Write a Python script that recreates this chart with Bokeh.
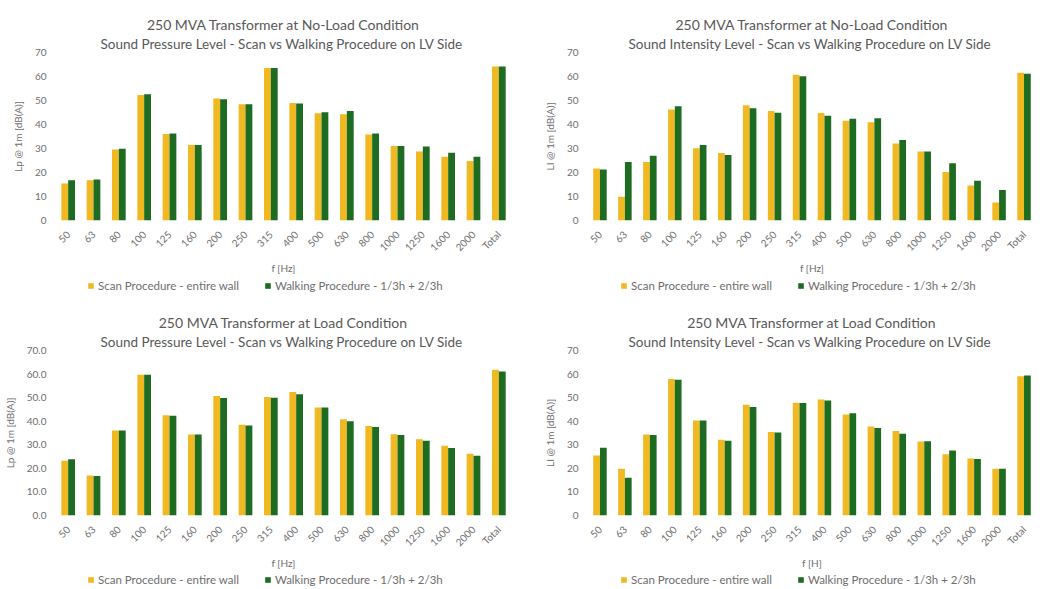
from bokeh.plotting import figure
from bokeh.layouts import gridplot
from bokeh.models import ColumnDataSource, FactorRange, Range1d, FixedTicker, Legend, LegendItem, NumeralTickFormatter, Title
from bokeh.transform import dodge
from bokeh.embed import file_html
from bokeh.resources import INLINE
import math

categories = ["50", "63", "80", "100", "125", "160", "200", "250", "315", "400",
              "500", "630", "800", "1000", "1250", "1600", "2000", "Total"]

# Panel 1: No-load, sound pressure
nl_spl_scan = [15.4, 16.8, 29.6, 52.3, 36.0, 31.5, 50.8, 48.4, 63.5, 49.0, 44.7, 44.3, 35.8, 31.0, 28.7, 26.6, 24.8, 64.2]
nl_spl_walk = [16.8, 17.1, 29.9, 52.6, 36.3, 31.5, 50.5, 48.4, 63.5, 48.7, 45.1, 45.6, 36.2, 31.0, 30.8, 28.2, 26.6, 64.2]
# Panel 2: No-load, sound intensity
nl_sil_scan = [21.7, 9.9, 24.4, 46.3, 30.1, 28.1, 48.0, 45.6, 60.7, 44.8, 41.6, 40.9, 32.1, 28.8, 20.2, 14.6, 7.5, 61.6]
nl_sil_walk = [21.3, 24.4, 27.0, 47.6, 31.5, 27.3, 46.8, 44.9, 60.1, 43.6, 42.4, 42.6, 33.5, 28.8, 23.9, 16.6, 12.7, 61.1]
# Panel 3: Load, sound pressure
ld_spl_scan = [23.2, 17.0, 36.1, 59.7, 42.5, 34.4, 50.7, 38.5, 50.3, 52.4, 45.8, 40.8, 38.0, 34.5, 32.3, 29.6, 26.2, 61.8]
ld_spl_walk = [23.9, 16.8, 36.1, 59.7, 42.3, 34.4, 49.9, 38.2, 50.0, 51.4, 45.8, 40.0, 37.5, 34.1, 31.7, 28.6, 25.4, 61.1]
# Panel 4: Load, sound intensity
ld_sil_scan = [25.5, 19.8, 34.4, 57.9, 40.3, 32.1, 47.0, 35.4, 47.8, 49.2, 42.9, 37.8, 35.8, 31.4, 26.0, 24.2, 19.8, 59.1]
ld_sil_walk = [28.7, 16.0, 34.1, 57.6, 40.3, 31.7, 46.0, 35.2, 47.7, 48.8, 43.4, 37.1, 34.7, 31.5, 27.6, 24.0, 19.8, 59.4]

y_ticks = [0, 10, 20, 30, 40, 50, 60, 70]
series_names = ["Scan Procedure - entire wall", "Walking Procedure - 1/3h + 2/3h"]

SCAN_COLOR = "#F0B922"
WALK_COLOR = "#1E6B22"
TEXT_COLOR = "#6e6e6e"
FONT = "Lato"


def make_panel(title1, title2, ylabel, xlabel, scan, walk, decimals, left, right, top, bottom, fw, fh):
    src = ColumnDataSource(dict(cat=categories, scan=scan, walk=walk))
    p = figure(x_range=FactorRange(*categories), y_range=Range1d(0, 70),
               frame_width=fw, frame_height=fh, output_backend="svg", toolbar_location=None,
               min_border_left=left, min_border_right=right,
               min_border_top=top, min_border_bottom=bottom)
    p.title.visible = False
    for txt, size in ((title2, "13.5px"), (title1, "14px")):
        t = Title(text=txt, align="center", text_font=FONT, text_font_size=size,
                  text_font_style="normal", text_color="#595959", standoff=1)
        p.add_layout(t, "above")
    p.vbar(x=dodge("cat", -0.135, range=p.x_range), top="scan", width=0.27,
           source=src, color=SCAN_COLOR, line_color=None)
    p.vbar(x=dodge("cat", 0.135, range=p.x_range), top="walk", width=0.27,
           source=src, color=WALK_COLOR, line_color=None)
    p.xgrid.visible = False
    p.ygrid.visible = False
    p.outline_line_color = None
    p.yaxis.ticker = FixedTicker(ticks=y_ticks)
    if decimals:
        p.yaxis.formatter = NumeralTickFormatter(format="0.0")
    for ax in (p.xaxis[0], p.yaxis[0]):
        ax.axis_line_color = None
        ax.major_tick_line_color = None
        ax.minor_tick_line_color = None
        ax.major_tick_out = 0
        ax.major_tick_in = 0
        ax.minor_tick_out = 0
        ax.major_label_text_font = FONT
        ax.major_label_text_font_size = "10px"
        ax.major_label_text_color = TEXT_COLOR
        ax.axis_label_text_font = FONT
        ax.axis_label_text_font_size = "10px"
        ax.axis_label_text_font_style = "normal"
        ax.axis_label_text_color = TEXT_COLOR
    p.xaxis.major_label_orientation = math.pi / 4
    p.xaxis.axis_label = xlabel
    p.yaxis.axis_label = ylabel
    p.xaxis.axis_label_standoff = 2
    p.yaxis.axis_label_standoff = 8
    p.xaxis.major_label_standoff = 12
    p.yaxis.major_label_standoff = 9
    return p


def make_legend(w, h, xoff):
    lf = figure(width=w, height=h, x_range=Range1d(0, 1), y_range=Range1d(0, 1),
                output_backend="svg", toolbar_location=None,
                x_axis_location=None, y_axis_location=None, min_border=0)
    lf.xgrid.visible = False
    lf.ygrid.visible = False
    lf.outline_line_color = None
    nan = float("nan")
    r1 = lf.vbar(x=[nan], top=[nan], width=0.5, color=SCAN_COLOR, line_color=None)
    r2 = lf.vbar(x=[nan], top=[nan], width=0.5, color=WALK_COLOR, line_color=None)
    legend = Legend(items=[LegendItem(label=series_names[0], renderers=[r1]),
                           LegendItem(label=series_names[1], renderers=[r2])],
                    orientation="horizontal", location=(xoff, 0),
                    label_text_font=FONT, label_text_font_size="11.5px",
                    label_text_color=TEXT_COLOR, glyph_width=7, glyph_height=7,
                    spacing=25, padding=0, margin=0, border_line_color=None,
                    background_fill_alpha=0, label_standoff=4, label_height=h)
    lf.add_layout(legend, "center")
    return lf


p1 = make_panel("250 MVA Transformer at No-Load Condition",
                "Sound Pressure Level -  Scan vs Walking Procedure on LV Side",
                "Lp @ 1m [dB(A)]", "f [Hz]", nl_spl_scan, nl_spl_walk, False, 55, 10, 52, 52, 456, 168)
p2 = make_panel("250 MVA Transformer at No-Load Condition",
                "Sound Intensity Level -  Scan vs Walking Procedure on LV Side",
                "LI @ 1m [dB(A)]", "f [Hz]", nl_sil_scan, nl_sil_walk, False, 66, 6, 52, 52, 449, 168)
p3 = make_panel("250 MVA Transformer at Load Condition",
                "Sound Pressure Level -  Scan vs Walking Procedure on LV Side",
                "Lp @ 1m [dB(A)]", "f [Hz]", ld_spl_scan, ld_spl_walk, True, 55, 10, 57, 48, 456, 165)
p4 = make_panel("250 MVA Transformer at Load Condition",
                "Sound Intensity Level -  Scan vs Walking Procedure on LV Side",
                "LI @ 1m [dB(A)]", "f [H]", ld_sil_scan, ld_sil_walk, False, 66, 6, 57, 48, 449, 165)

l1 = make_legend(521, 16, 32)
l2 = make_legend(521, 16, 33)
l3 = make_legend(521, 15, 32)
l4 = make_legend(521, 15, 33)

grid = gridplot([[p1, p2], [l1, l2], [p3, p4], [l3, l4]], toolbar_location=None)

open("out.html", "w").write(file_html(grid, INLINE))
